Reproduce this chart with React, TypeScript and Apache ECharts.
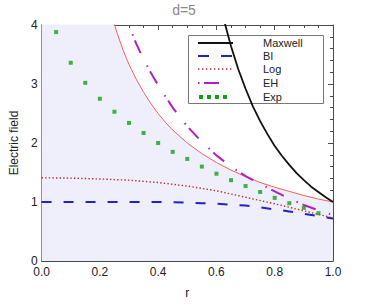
import React, { useEffect, useRef } from "react";
import * as echarts from "echarts";

const titleText = "d=5";
const xName = "r";
const yName = "Electric field";
const xTickLabels = ["0.0", "0.2", "0.4", "0.6", "0.8", "1.0"];
const yTickLabels = ["0", "1", "2", "3", "4"];
const legendNames = ["Maxwell", "BI", "Log", "EH", "Exp"];

// Maxwell
const maxwellR = [0.6, 0.625, 0.65, 0.675, 0.7, 0.725, 0.75, 0.775, 0.8, 0.825, 0.85, 0.875, 0.9, 0.925, 0.95, 0.975, 1.0];
const maxwellE = [4.63, 4.1, 3.64, 3.25, 2.92, 2.62, 2.37, 2.15, 1.95, 1.78, 1.63, 1.49, 1.37, 1.26, 1.17, 1.08, 1.0];

// BI
const biR = [0, 0.1, 0.2, 0.3, 0.4, 0.5, 0.55, 0.6, 0.65, 0.7, 0.75, 0.8, 0.85, 0.9, 0.95, 1.0];
const biE = [1.0, 1.0, 1.0, 1.0, 1.0, 0.99, 0.98, 0.97, 0.955, 0.94, 0.91, 0.875, 0.84, 0.8, 0.76, 0.72];

// Log
const logR = [0, 0.1, 0.2, 0.3, 0.4, 0.5, 0.6, 0.7, 0.8, 0.9, 1.0];
const logE = [1.41, 1.405, 1.39, 1.37, 1.33, 1.27, 1.19, 1.08, 0.97, 0.85, 0.73];

// EH
const ehR = [0.28, 0.3, 0.325, 0.35, 0.375, 0.4, 0.45, 0.5, 0.55, 0.6, 0.65, 0.7, 0.75, 0.8, 0.85, 0.9, 0.95, 1.0];
const ehE = [4.29, 4.0, 3.68, 3.42, 3.19, 2.98, 2.6, 2.28, 2.02, 1.79, 1.6, 1.44, 1.31, 1.18, 1.06, 0.95, 0.86, 0.78];

// Exp (points)
const expR = [0.05, 0.1, 0.15, 0.2, 0.25, 0.3, 0.35, 0.4, 0.45, 0.5, 0.55, 0.6, 0.65, 0.7, 0.75, 0.8, 0.85, 0.9, 0.95];
const expE = [3.88, 3.36, 3.02, 2.75, 2.53, 2.34, 2.17, 2.0, 1.85, 1.73, 1.6, 1.48, 1.37, 1.27, 1.17, 1.07, 0.98, 0.9, 0.81];

// Reference curve (thin red, shaded underneath)
const refR = [0, 0.2, 0.22, 0.24, 0.26, 0.28, 0.3, 0.325, 0.35, 0.375, 0.4, 0.425, 0.45, 0.475, 0.5, 0.55, 0.6, 0.65, 0.7, 0.75, 0.8, 0.85, 0.9, 0.95, 1.0];
const refE = [5.0, 5.0, 4.55, 4.17, 3.85, 3.57, 3.33, 3.08, 2.86, 2.67, 2.5, 2.35, 2.22, 2.11, 2.0, 1.82, 1.67, 1.54, 1.43, 1.33, 1.25, 1.18, 1.11, 1.05, 1.0];

const zip = (a: number[], b: number[]) => a.map((v, i) => [v, b[i]]);

const FONT = "Liberation Sans, Arial, sans-serif";
const C_MAX = "#111111";
const C_BI = "#2222c4";
const C_LOG = "#c0282a";
const C_EH = "#b21fc0";
const C_EXP = "#13a013";
const C_REF = "#ff5a5a";
const C_FILL = "#efeffc";
const C_FRAME = "#4a4a4a";

const baseX = {
  type: "value",
  min: 0,
  max: 1,
  interval: 0.2,
  axisLine: { show: true, onZero: false, lineStyle: { color: C_FRAME, width: 1 } },
  axisTick: { show: true, inside: true, length: 5, lineStyle: { color: C_FRAME } },
  minorTick: { show: true, splitNumber: 4, length: 3, lineStyle: { color: C_FRAME } },
  splitLine: { show: false },
  minorSplitLine: { show: false },
};
const baseY = {
  type: "value",
  min: 0,
  max: 4,
  interval: 1,
  axisLine: { show: true, onZero: false, lineStyle: { color: C_FRAME, width: 1 } },
  axisTick: { show: true, inside: true, length: 5, lineStyle: { color: C_FRAME } },
  minorTick: { show: true, splitNumber: 5, length: 3, lineStyle: { color: C_FRAME } },
  splitLine: { show: false },
  minorSplitLine: { show: false },
};

export default function App() {
  const ref = useRef<HTMLDivElement>(null);
  useEffect(() => {
    document.body.style.margin = "0";
    if (!ref.current) return;
    const chart = echarts.init(ref.current, null, { renderer: "svg" });
    const legendX0 = 198;
    const legendX1 = 233;
    const rows = [43, 56, 69, 83, 97];
    const legendGraphics: any[] = [
      {
        type: "rect",
        shape: { x: 188.5, y: 35.5, width: 135, height: 68 },
        style: { fill: "#ffffff", stroke: "#777777", lineWidth: 1 },
      },
      {
        type: "line",
        shape: { x1: legendX0, y1: rows[0], x2: legendX1, y2: rows[0] },
        style: { stroke: C_MAX, lineWidth: 1.8 },
      },
      {
        type: "line",
        shape: { x1: legendX0, y1: rows[1], x2: legendX1, y2: rows[1] },
        style: { stroke: C_BI, lineWidth: 2, lineDash: [11, 12] },
      },
      {
        type: "line",
        shape: { x1: legendX0, y1: rows[2], x2: legendX1, y2: rows[2] },
        style: { stroke: C_LOG, lineWidth: 1.4, lineDash: [1.4, 2.6] },
      },
      {
        type: "line",
        shape: { x1: legendX0, y1: rows[3], x2: 219, y2: rows[3] },
        style: { stroke: C_EH, lineWidth: 2, lineDash: [1.5, 4.5, 15, 14] },
      },
      ...[201, 209, 217, 225].map((cx) => ({
        type: "rect",
        shape: { x: cx - 2, y: rows[4] - 2, width: 4, height: 4 },
        style: { fill: C_EXP },
      })),
      ...legendNames.map((n, i) => ({
        type: "text",
        x: 263,
        y: rows[i],
        style: {
          text: n,
          fill: "#222222",
          font: `11px ${FONT}`,
          textVerticalAlign: "middle",
          verticalAlign: "middle",
        },
      })),
    ];
    chart.setOption({
      animation: false,
      textStyle: { fontFamily: FONT },
      grid: { left: 37, right: 49, top: 25, bottom: 46, containLabel: false },
      graphic: [
        {
          type: "text",
          x: 184,
          y: 10,
          style: {
            text: titleText,
            fill: "#8a8a8a",
            font: `14px ${FONT}`,
            textAlign: "center",
            textVerticalAlign: "middle",
            align: "center",
            verticalAlign: "middle",
          },
        },
        { type: "group", z: 100, children: legendGraphics },
      ],
      xAxis: [
        {
          ...baseX,
          position: "bottom",
          name: xName,
          nameLocation: "middle",
          nameGap: 26,
          nameTextStyle: { color: "#222222", fontSize: 12, fontFamily: FONT },
          axisLabel: {
            show: true,
            color: "#222222",
            fontSize: 12,
            margin: 5,
            lineHeight: 11,
            fontFamily: FONT,
            formatter: (v: number) => xTickLabels[Math.round(v / 0.2)] ?? "",
          },
        },
        { ...baseX, position: "top", axisLabel: { show: false } },
      ],
      yAxis: [
        {
          ...baseY,
          position: "left",
          name: yName,
          nameLocation: "middle",
          nameGap: 20,
          nameRotate: 90,
          nameTextStyle: { color: "#222222", fontSize: 12, fontFamily: FONT },
          axisLabel: {
            show: true,
            color: "#222222",
            fontSize: 12,
            margin: 4,
            fontFamily: FONT,
            lineHeight: 8,
            formatter: (v: number) => yTickLabels[Math.round(v)] ?? "",
          },
        },
        { ...baseY, position: "right", axisLabel: { show: false } },
      ],
      series: [
        {
          name: "ref",
          type: "line",
          data: zip(refR, refE),
          showSymbol: false,
          clip: true,
          lineStyle: { color: C_REF, width: 1 },
          areaStyle: { color: C_FILL, opacity: 1, origin: "start" },
          z: 1,
        },
        {
          name: "Maxwell",
          type: "line",
          data: zip(maxwellR, maxwellE),
          showSymbol: false,
          clip: true,
          lineStyle: { color: C_MAX, width: 1.8 },
          z: 3,
        },
        {
          name: "BI",
          type: "line",
          data: zip(biR, biE),
          showSymbol: false,
          clip: true,
          lineStyle: { color: C_BI, width: 2, type: [10, 12] },
          z: 3,
        },
        {
          name: "Log",
          type: "line",
          data: zip(logR, logE),
          showSymbol: false,
          clip: true,
          lineStyle: { color: C_LOG, width: 1.4, type: [1.4, 2.2] },
          z: 3,
        },
        {
          name: "EH",
          type: "line",
          data: zip(ehR, ehE),
          showSymbol: false,
          clip: true,
          lineStyle: { color: C_EH, width: 2, type: [14, 14, 1.5, 5] },
          z: 3,
        },
        {
          name: "Exp",
          type: "scatter",
          data: zip(expR, expE),
          symbol: "rect",
          symbolSize: 4,
          itemStyle: { color: C_EXP },
          z: 4,
        },
      ],
    });
    return () => chart.dispose();
  }, []);
  return <div ref={ref} style={{ width: 382, height: 307 }} />;
}
